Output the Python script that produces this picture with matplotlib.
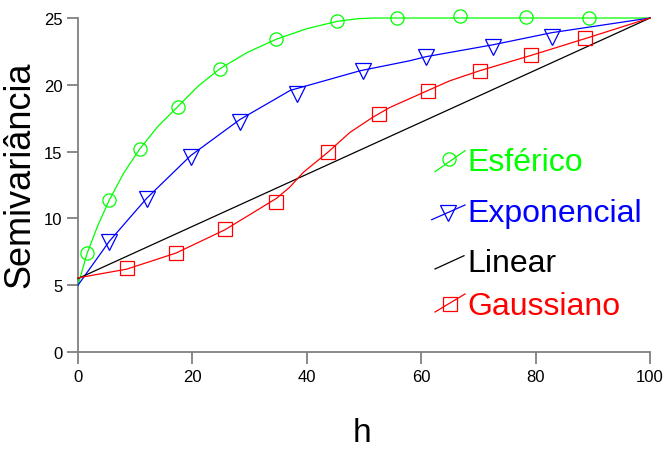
import matplotlib
matplotlib.use("Agg")
import matplotlib.pyplot as plt

plt.rcParams['font.family'] = ['Liberation Sans', 'DejaVu Sans']

# ---------------- data ----------------
x_ticks = [0, 20, 40, 60, 80, 100]
y_ticks = [0, 5, 10, 15, 20, 25]

# model curves
esf_curve_h = [0, 1.6, 3.5, 5.5, 8.0, 10.8, 14.0, 17.4, 21.0, 24.8, 29.5, 34.6, 40.0, 45.3, 49.0, 52.0, 100]
esf_curve_g = [5.0, 7.4, 9.5, 11.4, 13.4, 15.2, 16.9, 18.35, 19.9, 21.2, 22.4, 23.4, 24.2, 24.75, 24.95, 25.0, 25.0]

exp_curve_h = [0, 5.5, 12.0, 19.7, 28.3, 37.1, 49.3, 58.0, 60.8, 72.6, 82.8, 100]
exp_curve_g = [5.0, 8.3, 11.5, 14.7, 17.4, 19.58, 21.05, 21.8, 22.1, 23.0, 23.9, 25.0]

lin_curve_h = [0, 100]
lin_curve_g = [5.5, 25.0]

gau_curve_h = [0, 8.5, 17.1, 25.7, 30.1, 34.7, 37.0, 39.4, 43.65, 47.55, 51.5, 54.5, 61.1, 65.0, 70.2, 79.2, 88.6, 100]
gau_curve_g = [5.55, 6.2, 7.4, 9.15, 10.3, 11.5, 12.33, 13.45, 14.94, 16.44, 17.56, 18.3, 19.56, 20.3, 21.05, 22.2, 23.45, 25.0]

# experimental points (markers)
esf_pts_h = [1.6, 5.5, 10.8, 17.4, 24.8, 34.6, 45.3, 55.8, 66.8, 78.4, 89.4]
esf_pts_g = [7.4, 11.35, 15.2, 18.35, 21.2, 23.4, 24.8, 25.0, 25.15, 25.05, 25.0]

exp_pts_h = [5.5, 12.0, 19.7, 28.3, 38.2, 49.8, 60.8, 72.6, 82.8]
exp_pts_g = [8.2, 11.45, 14.6, 17.2, 19.3, 21.0, 22.05, 22.85, 23.6]

gau_pts_h = [8.5, 17.1, 25.7, 34.7, 43.7, 52.6, 61.2, 70.2, 79.2, 88.6]
gau_pts_g = [6.26, 7.43, 9.18, 11.25, 15.0, 17.8, 19.56, 21.0, 22.25, 23.48]

labels = ['Esférico', 'Exponencial', 'Linear', 'Gaussiano']
colors = ['#00ff00', '#0000ff', '#000000', '#ff0000']
markers = ['o', 'v', None, 's']
msizes = [9.5, 12, 0, 10]

# ---------------- figure ----------------
W, H = 667, 452
fig = plt.figure(figsize=(W / 100, H / 100), dpi=100)
ax = fig.add_axes([78 / W, 1 - 353 / H, 572 / W, 334 / H])

curves = [(esf_curve_h, esf_curve_g), (exp_curve_h, exp_curve_g),
          (lin_curve_h, lin_curve_g), (gau_curve_h, gau_curve_g)]
points = [(esf_pts_h, esf_pts_g), (exp_pts_h, exp_pts_g), None, (gau_pts_h, gau_pts_g)]

for (ch, cg), pts, c, m, ms in zip(curves, points, colors, markers, msizes):
    ax.plot(ch, cg, color=c, lw=0.9, clip_on=False, zorder=3)
    if pts is not None:
        ax.plot(pts[0], pts[1], linestyle='none', marker=m, markersize=ms,
                markerfacecolor='none', markeredgecolor=c, markeredgewidth=0.9,
                clip_on=False, zorder=4)

ax.set_xlim(0, 100)
ax.set_ylim(0, 25)
ax.set_xticks(x_ticks)
ax.set_yticks(y_ticks)
ax.set_xticklabels([str(v) for v in x_ticks])
ax.set_yticklabels([str(v) for v in y_ticks])

for s in ['top', 'right']:
    ax.spines[s].set_visible(False)
for s in ['left', 'bottom']:
    ax.spines[s].set_color('#808080')
    ax.spines[s].set_linewidth(1.3)

ax.tick_params(axis='both', direction='out', color='#808080', width=1.3, labelsize=12)
ax.tick_params(axis='y', length=8, pad=3)
ax.tick_params(axis='x', length=8.6, pad=4.0)

ax.set_ylabel('Semivariância', fontsize=26, va='center')
ax.yaxis.set_label_coords((20 - 78) / 572, (353 - 175) / 334)
ax.set_xlabel('h', fontsize=24, va='top')
ax.xaxis.set_label_coords((362 - 78) / 572, (353 - 418) / 334)

# ---------------- legend (manual, slanted handles) ----------------
# pixel layout: handle line start, end, marker centre, text baseline
leg_layout = [
    ((435, 172.7), (465, 151.7), (449.3, 160.0), 170.7),
    ((431.7, 220.7), (465, 206.0), (447.5, 214.0), 221.7),
    ((435, 270.0), (464, 256.7), None, 271.7),
    ((435, 313.0), (465, 295.0), (450.0, 305.0), 315.0),
]
text_x = 467

def fx(px):
    return px / W

def fy(py):
    return 1 - py / H

for lab, c, m, ms, (p0, p1, pm, base) in zip(labels, colors, markers, msizes, leg_layout):
    fig.add_artist(plt.Line2D([fx(p0[0]), fx(p1[0])], [fy(p0[1]), fy(p1[1])],
                              transform=fig.transFigure, color=c, lw=0.9))
    if m is not None:
        fig.add_artist(plt.Line2D([fx(pm[0])], [fy(pm[1])], transform=fig.transFigure,
                                  linestyle='none', marker=m, markersize=ms,
                                  markerfacecolor='none', markeredgecolor=c,
                                  markeredgewidth=0.9))
    fig.text(fx(text_x), fy(base), lab, color=c, fontsize=23,
             ha='left', va='baseline')

fig.savefig('out.png', dpi=100)
